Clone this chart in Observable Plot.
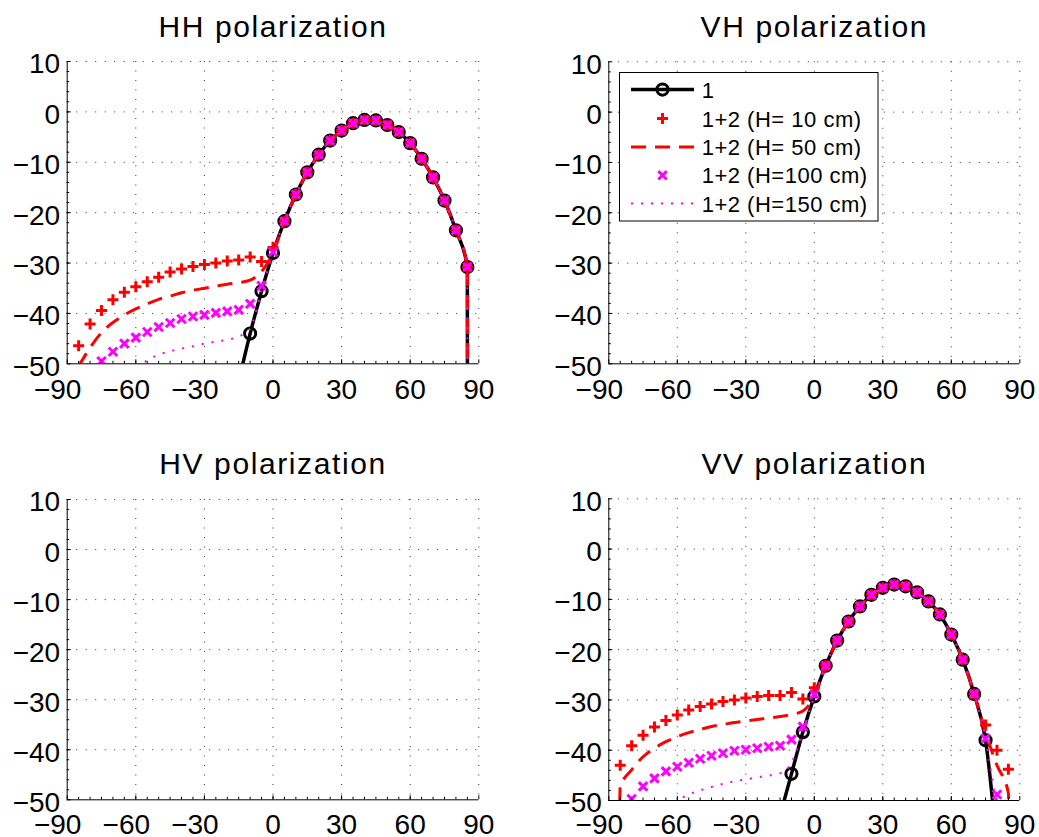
<!DOCTYPE html>
<html>
<head>
<meta charset="utf-8">
<script src="https://cdn.jsdelivr.net/npm/d3@7"></script>
<script src="https://cdn.jsdelivr.net/npm/@observablehq/plot@0.6"></script>
<style>
  html, body { margin: 0; padding: 0; background: #fff; }
  #chart { position: relative; width: 1039px; height: 837px; overflow: hidden; background: #fff; }
  #chart svg { position: absolute; }
</style>
</head>
<body>
<div id="chart"></div>
<script>
// ---------- axes ----------
const xTicks = [-90, -60, -30, 0, 30, 60, 90];
const yTicks = [-50, -40, -30, -20, -10, 0, 10];
const xMinorTicks = d3.range(-85, 90, 5);
const yMinorTicks = d3.range(-48, 10, 2);

// ---------- HH polarization ----------
// main lobe shared by every configuration (5° .. 85°)
const hhLobeAngle = [5, 10, 15, 20, 25, 30, 35, 40, 45, 50, 55, 60, 65, 70, 75, 80, 85];
const hhLobeDb = [-21.7, -16.4, -12.0, -8.5, -5.7, -3.7, -2.25, -1.6, -1.7, -2.6, -4.0, -6.2, -9.3, -13.0, -17.6, -23.5, -30.8];
const hhSingleAngle = [-15, -10, -5, 0];
const hhSingleDb = [-53.5, -44.0, -35.6, -28.0];
const hhEdgeAngle = [85.1];
const hhEdgeDb = [-120];
const leftAngle = [-85, -80, -75, -70, -65, -60, -55, -50, -45, -40, -35, -30, -25, -20, -15, -10, -5, 0];
const hhH10Db = [-46.4, -42.1, -39.4, -37.3, -35.8, -34.7, -33.7, -32.8, -31.8, -31.2, -30.7, -30.3, -30.0, -29.6, -29.4, -28.8, -29.7, -26.9];
const hhH50Db = [-50.5, -46.8, -43.8, -41.8, -40.3, -39.1, -38.1, -37.2, -36.6, -35.9, -35.4, -35.0, -34.6, -34.2, -33.9, -33.4, -31.7, -28.0];
const hhH100Db = [-56.0, -52.5, -49.5, -47.6, -46.0, -44.8, -43.7, -42.7, -41.9, -41.1, -40.6, -40.3, -39.9, -39.6, -39.3, -38.1, -34.5, -27.8];
const h150Angle = [-65, -60, -55, -50, -45, -40, -35, -30, -25, -20, -15, -10, -5, 0];
const hhH150Db = [-54.0, -51.3, -49.3, -48.2, -47.5, -47.0, -46.5, -46.0, -45.6, -45.2, -44.6, -43.0, -35.4, -28.0];

// ---------- VV polarization ----------
const vvLobeAngle = [5, 10, 15, 20, 25, 30, 35, 40, 45, 50, 55, 60, 65, 70];
const vvLobeDb = [-23.2, -18.2, -14.4, -11.4, -9.1, -7.7, -7.05, -7.4, -8.6, -10.4, -13.0, -17.0, -22.0, -28.8];
const vvSingleAngle = [-15, -10, -5, 0];
const vvSingleDb = [-53.0, -44.7, -36.4, -29.3];
const vvSingleTailAngle = [75, 80];
const vvSingleTailDb = [-38.0, -59.0];
const vvH10Db = [-43.0, -39.1, -37.0, -35.4, -34.1, -33.0, -32.0, -31.3, -30.8, -30.3, -30.0, -29.6, -29.3, -29.1, -29.1, -28.5, -29.8, -27.6];
const vvH10TailAngle = [75, 80, 85];
const vvH10TailDb = [-35.0, -40.0, -43.8];
const vvH50HeadAngle = [-85.5];
const vvH50HeadDb = [-60];
const vvH50Db = [-47.3, -43.9, -41.3, -39.6, -38.3, -37.3, -36.5, -35.9, -35.3, -34.9, -34.5, -34.2, -33.9, -33.6, -33.3, -32.9, -32.2, -29.3];
const vvH50TailAngle = [75, 80, 85, 85.5];
const vvH50TailDb = [-36.5, -43.0, -48.5, -60];
const vvH100Db = [-53.5, -49.7, -47.2, -45.6, -44.2, -43.3, -42.5, -41.7, -41.1, -40.6, -40.1, -39.9, -39.6, -39.3, -39.1, -37.9, -35.3, -28.9];
const vvH100TailAngle = [75, 80];
const vvH100TailDb = [-37.7, -48.8];
const vvH150Db = [-51.5, -50.0, -48.8, -48.0, -47.3, -46.7, -46.2, -45.8, -45.4, -45.0, -44.6, -42.5, -36.2, -29.3];
const vvH150TailAngle = [75, 80];
const vvH150TailDb = [-37.8, -52.0];

// ---------- legend ----------
const legendLabels = ["1", "1+2 (H= 10 cm)", "1+2 (H= 50 cm)", "1+2 (H=100 cm)", "1+2 (H=150 cm)"];

// ---------- helpers ----------
const pts = (...parts) => {
  const out = [];
  for (let i = 0; i < parts.length; i += 2) {
    const xs = parts[i], ys = parts[i + 1];
    xs.forEach((x, j) => out.push({x, y: ys[j]}));
  }
  return out;
};

const FONT = '"Liberation Sans", Arial, Helvetica, sans-serif';
const RED = "#ff0000", MAGENTA = "#ff00ff";
const fmt = d => (d < 0 ? "\u2212" + Math.abs(d) : String(d));

// stroke-only marker shapes; size = π r²
const plusSymbol = {
  draw(ctx, size) {
    const r = Math.sqrt(size / Math.PI);
    ctx.moveTo(-r, 0); ctx.lineTo(r, 0);
    ctx.moveTo(0, -r); ctx.lineTo(0, r);
  }
};
const timesSymbol = {
  draw(ctx, size) {
    const r = Math.sqrt(size / Math.PI) * 0.85;
    ctx.moveTo(-r, -r); ctx.lineTo(r, r);
    ctx.moveTo(-r, r); ctx.lineTo(r, -r);
  }
};

function seriesMarks(s) {
  if (!s) return [];
  const xy = {x: "x", y: "y", clip: true};
  return [
    Plot.line(s.single, {...xy, stroke: "#000", strokeWidth: 3.5, curve: "monotone-x"}),
    Plot.dot(s.single, {...xy, r: 5.6, stroke: "#000", strokeWidth: 3, fill: "none"}),
    Plot.dot(s.h10, {...xy, r: 5.5, symbol: plusSymbol, stroke: RED, strokeWidth: 3, fill: "none"}),
    Plot.line(s.h50, {...xy, stroke: RED, strokeWidth: 3, strokeDasharray: "15,9", strokeLinecap: "butt", curve: "monotone-x"}),
    Plot.dot(s.h100, {...xy, r: 5, symbol: timesSymbol, stroke: MAGENTA, strokeWidth: 3, fill: "none"}),
    Plot.line(s.h150, {...xy, stroke: MAGENTA, strokeWidth: 2, strokeDasharray: "2,8", strokeLinecap: "butt", curve: "monotone-x"})
  ];
}

function panel(title, box, series) {
  const gridStyle = {stroke: "#000", strokeOpacity: 0.8, strokeWidth: 1, strokeDasharray: "1,8.5"};
  const svg = Plot.plot({
    width: box.width,
    height: box.height,
    marginLeft: box.mL,
    marginRight: box.mR,
    marginTop: box.mT,
    marginBottom: box.mB,
    style: {fontFamily: FONT, fontSize: "28px", color: "#000", background: "transparent", overflow: "visible"},
    x: {domain: [-90, 90], label: null},
    y: {domain: [-50, 10], label: null},
    marks: [
      Plot.gridX(xTicks.filter(d => d > -90), gridStyle),
      Plot.gridY(yTicks.filter(d => d > -50), gridStyle),
      ...seriesMarks(series),
      Plot.ruleX([-90], {stroke: "#000", strokeWidth: 1}),
      Plot.ruleY([-50], {stroke: "#000", strokeWidth: 1}),
      Plot.axisX(xMinorTicks, {anchor: "bottom", tickSize: -2.5, fill: "none", strokeWidth: 1}),
      Plot.axisY(yMinorTicks, {anchor: "left", tickSize: -2.5, fill: "none", strokeWidth: 1}),
      Plot.axisX(xTicks, {anchor: "bottom", tickSize: -4, fill: "none", strokeWidth: 1}),
      Plot.axisY(yTicks, {anchor: "left", tickSize: -4, fill: "none", strokeWidth: 1}),
      Plot.axisX(xTicks.filter(d => d < 0), {anchor: "bottom", tickSize: 0, tickPadding: box.xPad, dx: -9.5, tickFormat: fmt, fontSize: 28}),
      Plot.axisX(xTicks.filter(d => d >= 0), {anchor: "bottom", tickSize: 0, tickPadding: box.xPad, tickFormat: fmt, fontSize: 28}),
      Plot.axisY(yTicks, {anchor: "left", tickSize: 0, tickPadding: 7, dy: 3, tickFormat: fmt, fontSize: 28}),
      Plot.text([title], {frameAnchor: "top", lineAnchor: "bottom", dy: box.titleBase - box.mT, fontSize: 30})
    ]
  });
  d3.select(svg).selectAll('g[aria-label="text"] text').attr("letter-spacing", "1.6px");
  svg.style.left = box.left + "px";
  svg.style.top = box.top + "px";
  return svg;
}

const chart = document.getElementById("chart");

const hhSeries = {
  single: pts(hhSingleAngle, hhSingleDb, hhLobeAngle, hhLobeDb, hhEdgeAngle, hhEdgeDb),
  h10: pts(leftAngle, hhH10Db, hhLobeAngle, hhLobeDb),
  h50: pts(leftAngle, hhH50Db, hhLobeAngle, hhLobeDb, hhEdgeAngle, hhEdgeDb),
  h100: pts(leftAngle, hhH100Db, hhLobeAngle, hhLobeDb),
  h150: pts(h150Angle, hhH150Db, hhLobeAngle, hhLobeDb, hhEdgeAngle, hhEdgeDb)
};
const vvSeries = {
  single: pts(vvSingleAngle, vvSingleDb, vvLobeAngle, vvLobeDb, vvSingleTailAngle, vvSingleTailDb),
  h10: pts(leftAngle, vvH10Db, vvLobeAngle, vvLobeDb, vvH10TailAngle, vvH10TailDb),
  h50: pts(vvH50HeadAngle, vvH50HeadDb, leftAngle, vvH50Db, vvLobeAngle, vvLobeDb, vvH50TailAngle, vvH50TailDb),
  h100: pts(leftAngle, vvH100Db, vvLobeAngle, vvLobeDb, vvH100TailAngle, vvH100TailDb),
  h150: pts(h150Angle, vvH150Db, vvLobeAngle, vvLobeDb, vvH150TailAngle, vvH150TailDb)
};

chart.append(panel("HH polarization",
  {left: 0, top: 0, width: 520, height: 420, mL: 66.7, mR: 41.7, mT: 61, mB: 56.7, titleBase: 36.7, xPad: 15}, hhSeries));
chart.append(panel("VH polarization",
  {left: 520, top: 0, width: 519, height: 420, mL: 88.3, mR: 19.7, mT: 61.3, mB: 56.7, titleBase: 36.7, xPad: 15}, null));
chart.append(panel("HV polarization",
  {left: 0, top: 420, width: 520, height: 417, mL: 66.7, mR: 41.7, mT: 79, mB: 37.7, titleBase: 53, xPad: 14}, null));
chart.append(panel("VV polarization",
  {left: 520, top: 420, width: 519, height: 417, mL: 88.3, mR: 19.7, mT: 78.3, mB: 37, titleBase: 53.3, xPad: 14}, vvSeries));

// ---------- legend box inside the VH panel ----------
const lg = d3.create("svg")
  .attr("width", 260).attr("height", 150)
  .style("left", "619px").style("top", "71.7px");
lg.append("rect").attr("x", 0.5).attr("y", 0.5).attr("width", 258.5).attr("height", 148.5)
  .attr("fill", "#fff").attr("stroke", "#000").attr("stroke-width", 1);
const rowY = [17.6, 46.6, 75, 103.3, 131.6];
const x0 = 12, x1 = 75, xm = 43.5;
// 1
lg.append("line").attr("x1", x0).attr("x2", x1).attr("y1", rowY[0]).attr("y2", rowY[0])
  .attr("stroke", "#000").attr("stroke-width", 3.5);
lg.append("circle").attr("cx", xm).attr("cy", rowY[0]).attr("r", 5.6)
  .attr("fill", "none").attr("stroke", "#000").attr("stroke-width", 3);
// H = 10 cm
lg.append("path").attr("transform", `translate(${xm},${rowY[1]})`)
  .attr("d", "M-5.5,0H5.5M0,-5.5V5.5").attr("stroke", RED).attr("stroke-width", 3).attr("fill", "none");
// H = 50 cm
lg.append("line").attr("x1", x0).attr("x2", x1).attr("y1", rowY[2]).attr("y2", rowY[2])
  .attr("stroke", RED).attr("stroke-width", 3).attr("stroke-dasharray", "15,9");
// H = 100 cm
lg.append("path").attr("transform", `translate(${xm},${rowY[3]})`)
  .attr("d", "M-4.2,-4.2L4.2,4.2M-4.2,4.2L4.2,-4.2").attr("stroke", MAGENTA).attr("stroke-width", 3).attr("fill", "none");
// H = 150 cm
lg.append("line").attr("x1", x0).attr("x2", x1).attr("y1", rowY[4]).attr("y2", rowY[4])
  .attr("stroke", MAGENTA).attr("stroke-width", 2).attr("stroke-dasharray", "2,8");
lg.selectAll("text.lbl").data(legendLabels).join("text")
  .attr("class", "lbl")
  .attr("x", 82.7).attr("y", (d, i) => rowY[i]).attr("dy", "0.36em")
  .attr("font-family", FONT).attr("font-size", 22).attr("letter-spacing", "0.5px")
  .attr("fill", "#000").text(d => d);
chart.append(lg.node());
</script>
</body>
</html>
